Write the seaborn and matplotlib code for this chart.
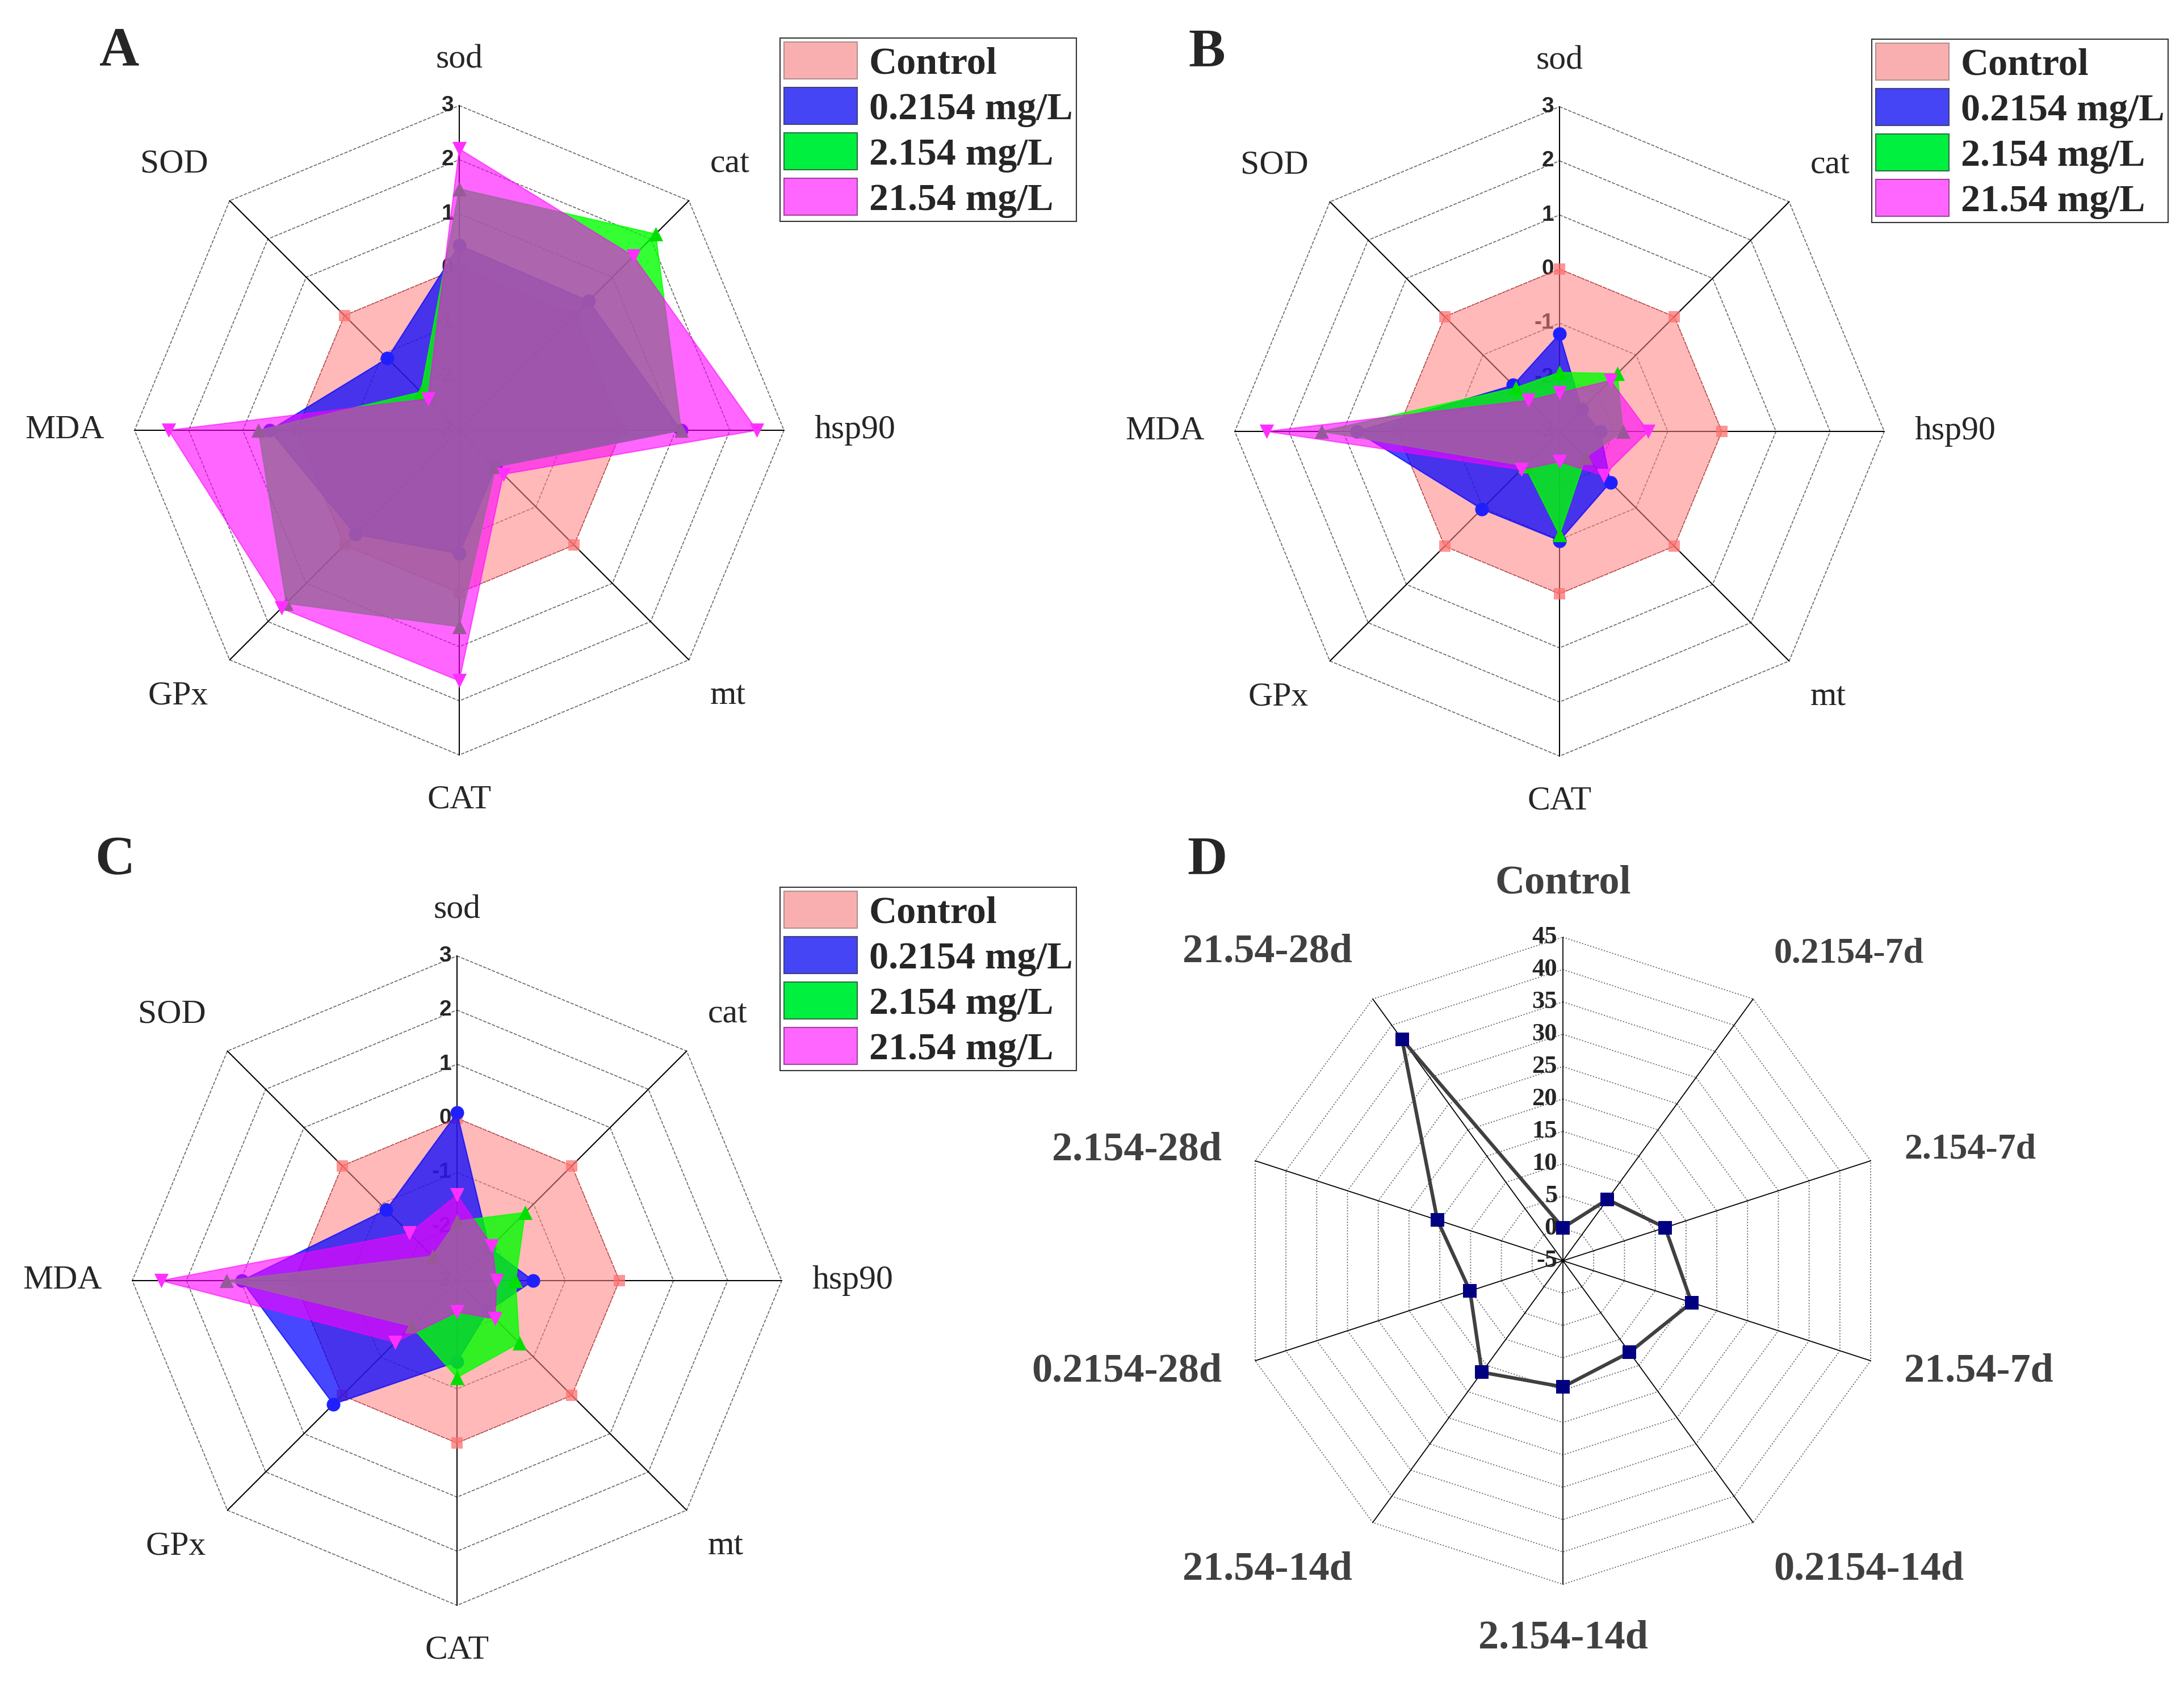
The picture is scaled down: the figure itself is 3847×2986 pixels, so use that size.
import numpy as np
import matplotlib
matplotlib.use('Agg')
import matplotlib.pyplot as plt
from matplotlib.patches import Patch
import seaborn as sns

sns.set_theme(style='white')
plt.rcParams['font.family'] = ['Liberation Serif', 'DejaVu Serif']

W, H = 3847, 2986

# ---- data: panels A-C (z-scores, Control normalised to 0) ----
genes = ['sod', 'cat', 'hsp90', 'mt', 'CAT', 'GPx', 'MDA', 'SOD']
series_names = ['Control', '0.2154 mg/L', '2.154 mg/L', '21.54 mg/L']
abc_ticks = [-3, -2, -1, 0, 1, 2, 3]

a_control = [0, 0, 0, 0, 0, 0, 0, 0]
a_low = [0.42, 0.38, 1.1, -2.05, -0.72, -0.28, 0.5, -1.12]
a_mid = [1.46, 2.13, 1.1, -2.05, 0.63, 1.52, 0.71, -2.0]
a_high = [2.2, 1.55, 2.5, -1.85, 1.63, 1.65, 2.37, -2.18]

b_control = [0, 0, 0, 0, 0, 0, 0, 0]
b_low = [-1.2, -2.42, -2.25, -1.67, -0.98, -0.97, 0.75, -1.79]
b_mid = [-1.91, -1.49, -1.83, -2.32, -1.09, -2.1, 1.4, -1.86]
b_high = [-2.29, -1.67, -1.36, -1.85, -2.44, -2.0, 2.41, -2.19]

c_control = [0, 0, 0, 0, 0, 0, 0, 0]
c_low = [0.1, -2.15, -1.59, -2.2, -1.5, 0.23, 0.98, -1.15]
c_mid = [-1.9, -1.22, -1.92, -1.37, -1.21, -1.81, 1.26, -2.36]
c_high = [-1.42, -2.09, -2.27, -2.0, -2.42, -1.39, 2.47, -1.76]

# ---- data: panel D ----
d_labels = ['Control', '0.2154-7d', '2.154-7d', '21.54-7d', '0.2154-14d',
            '2.154-14d', '21.54-14d', '0.2154-28d', '2.154-28d', '21.54-28d']
d_values = [0.1, 6.7, 11.6, 15.9, 12.5, 14.5, 16.3, 10.1, 15.4, 37.3]
d_ticks = [-5, 0, 5, 10, 15, 20, 25, 30, 35, 40, 45]

# styles
fills = ['#FF8080', '#0000FF', '#00FF00', '#FF00FF']
alphas = [0.55, 0.72, 0.8, 0.6]
mcolors = ['#FF7070', '#2020FF', '#00E000', '#FF30FF']
markers = ['s', 'o', '^', 'v']
msizes = [190, 300, 330, 330]
legend_faces = ['#F9AFAF', '#4545F5', '#00F040', '#FF66FF']
legend_edges = ['#B09090', '#404080', '#307040', '#A040A0']

fig = plt.figure(figsize=(W / 100, H / 100), dpi=100)


def make_axes(cx, cy, ppu, half=760):
    ax = fig.add_axes([(cx - half) / W, (H - cy - half) / H, 2 * half / W, 2 * half / H])
    lim = half / ppu
    ax.set_xlim(-lim, lim)
    ax.set_ylim(-lim, lim)
    ax.axis('off')
    ax.patch.set_alpha(0)
    return ax


def angles(n):
    return np.pi / 2 - np.arange(n) * 2 * np.pi / n


def to_xy(r, n):
    ang = angles(n)
    r = np.asarray(r, dtype=float)
    return r * np.cos(ang), r * np.sin(ang)


def closed(a):
    return np.append(a, a[0])


def align(a):
    c, s = np.cos(a), np.sin(a)
    ha = 'left' if c > 0.1 else ('right' if c < -0.1 else 'center')
    va = 'bottom' if s > 0.5 else ('top' if s < -0.5 else 'center')
    return ha, va


def radar_abc(cx, cy, data):
    ppu = 572 / 6
    ax = make_axes(cx, cy, ppu)
    n = len(genes)
    rmax = abc_ticks[-1] - abc_ticks[0]
    for t in abc_ticks[1:]:
        x, y = to_xy([t - abc_ticks[0]] * n, n)
        ax.plot(closed(x), closed(y), color='#666666', lw=1.2,
                dashes=(3.5, 1.5), zorder=1)
    ex, ey = to_xy([rmax] * n, n)
    for i in range(n):
        ax.plot([0, ex[i]], [0, ey[i]], color='black', lw=1.5, zorder=1.5)
    for t in abc_ticks:
        ax.text(-10 / ppu, t - abc_ticks[0], str(t), ha='right', va='center',
                fontsize=28, fontweight='bold', family='Liberation Sans', zorder=2)
    rl = 625 / ppu
    for a, g in zip(angles(n), genes):
        ha, va = align(a)
        ax.text(rl * np.cos(a), rl * np.sin(a), g, ha=ha, va=va, fontsize=43)
    for k, vals in enumerate(data):
        x, y = to_xy(np.asarray(vals) - abc_ticks[0], n)
        z = 3 + k
        if k == 0:
            ax.fill(x, y, facecolor=fills[k], alpha=alphas[k], lw=0, zorder=z)
            ax.plot(closed(x), closed(y), color='#E03030', lw=1.0,
                    dashes=(2, 1.5), zorder=z)
        else:
            ax.fill(x, y, facecolor=fills[k], edgecolor=fills[k], alpha=alphas[k],
                    lw=1.5, zorder=z)
        sns.scatterplot(x=x, y=y, marker=markers[k], s=msizes[k], color=mcolors[k],
                        alpha=0.75 if k == 0 else 1, linewidth=0, ax=ax,
                        legend=False, zorder=z + 0.5)
    return ax


def add_legend(left, top):
    handles = [Patch(facecolor=legend_faces[k], edgecolor=legend_edges[k], lw=1.5)
               for k in range(4)]
    leg = fig.legend(handles, series_names, loc='upper left',
                     bbox_to_anchor=(left / W, 1 - top / H), bbox_transform=fig.transFigure,
                     prop={'family': 'Liberation Serif', 'weight': 'bold', 'size': 49},
                     handlelength=1.9, handleheight=1.1, labelspacing=0.15,
                     handletextpad=0.3, borderpad=0.1, borderaxespad=0,
                     frameon=True, fancybox=False, framealpha=1)
    leg.get_frame().set_edgecolor('#333333')
    leg.get_frame().set_linewidth(1.5)


radar_abc(809, 758, [a_control, a_low, a_mid, a_high])
radar_abc(2747, 760, [b_control, b_low, b_mid, b_high])
radar_abc(805, 2256, [c_control, c_low, c_mid, c_high])
add_legend(1374, 67)
add_legend(3297, 69)
add_legend(1374, 1563)

# ---- panel D ----
ppu_d = 570 / 50
axd = make_axes(2753, 2221, ppu_d)
nd = len(d_labels)
r0 = d_ticks[0]
for t in d_ticks[1:]:
    x, y = to_xy([t - r0] * nd, nd)
    axd.plot(closed(x), closed(y), color='#6a6a6a', lw=1.3,
             linestyle=(0, (1.2, 1.6)), zorder=1)
ex, ey = to_xy([d_ticks[-1] - r0] * nd, nd)
for i in range(nd):
    axd.plot([0, ex[i]], [0, ey[i]], color='black', lw=1.3, zorder=1.5)
for t in d_ticks:
    axd.text(-10 / ppu_d, t - r0, str(t), ha='right', va='center',
             fontsize=32, fontweight='bold', zorder=2)
d_sizes = [52, 46, 46, 52, 52, 52, 52, 52, 52, 52]
rld = 632 / ppu_d
for a, lab, fs in zip(angles(nd), d_labels, d_sizes):
    ha, va = align(a)
    axd.text(rld * np.cos(a), rld * np.sin(a), lab, ha=ha, va=va,
             fontsize=fs, fontweight='bold', color='#404040')
xd, yd = to_xy(np.asarray(d_values) - r0, nd)
sns.lineplot(x=closed(xd), y=closed(yd), sort=False, estimator=None,
             color='#404040', lw=4.5, ax=axd, zorder=3)
sns.scatterplot(x=xd, y=yd, marker='s', s=290, color='#000080', linewidth=0,
                ax=axd, legend=False, zorder=4)

# panel letters
for letter, (px, py) in zip('ABCD', [(210, 91), (2126, 94), (202, 1517), (2126, 1517)]):
    fig.text(px / W, 1 - py / H, letter, ha='center', va='center',
             fontsize=70, fontweight='bold')

fig.savefig('out.png', dpi=100)
